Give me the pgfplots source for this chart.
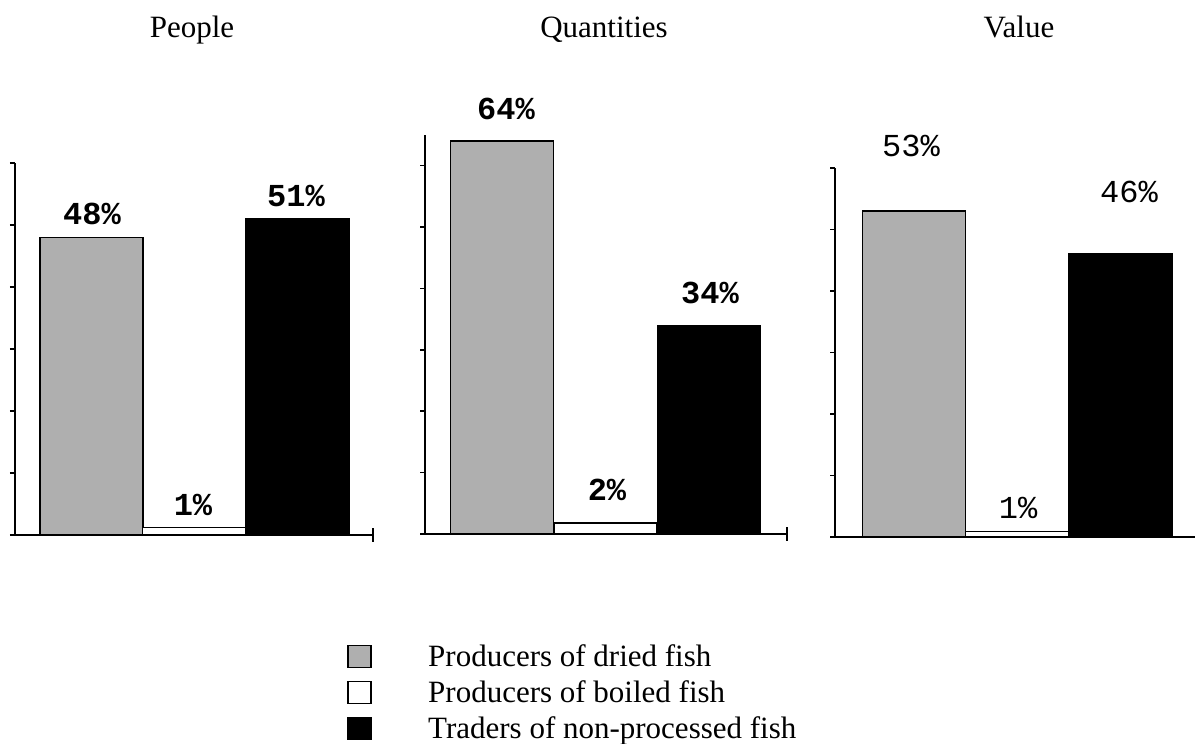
\documentclass[border=0pt]{standalone}
\usepackage{fontspec}
\setmainfont{Liberation Serif}
\newfontfamily\mono{Liberation Mono}
\usepackage{pgfplots}
\pgfplotsset{compat=1.18}
\definecolor{dried}{RGB}{175,175,175}
\tikzset{
 lab/.style={font=\mono\bfseries\fontsize{16}{16}\selectfont, anchor=center, inner sep=0pt},
 labr/.style={font=\mono\fontsize{16}{16}\selectfont, anchor=center, inner sep=0pt},
 ttl/.style={anchor=base, font=\fontsize{15.5}{15.5}\selectfont},
}
\pgfplotsset{
 panel/.style={
  scale only axis, anchor=south west,
  axis x line*=bottom, axis y line*=left,
  xtick=\empty, ytick={0,10,...,60}, yticklabels={},
  tick align=outside, major tick length=2.5pt,
  axis line style={line width=1pt, black},
  x axis line style={shorten <=-2pt},
  tick style={line width=0.8pt, black},
  ymin=0, clip=false, ybar,
 },
 bars/.style={bar width=103, bar shift=0pt, draw=black, line width=0.7pt},
 endtick/.style={extra x ticks={#1}, extra x tick labels={}, extra x tick style={tick align=center, major tick length=7pt}},
}
\begin{document}
\begin{tikzpicture}
\path[use as bounding box] (0pt,0pt) rectangle (597.5pt,372pt);
% People
\begin{axis}[panel, at={(7.5pt,104.5pt)}, width=179pt, height=186pt,
  xmin=15, xmax=373, ymax=60, endtick=373]
\addplot[bars, fill=dried] coordinates {(91.5,48)};
\addplot[bars, fill=white] coordinates {(194,1.2)};
\addplot[bars, fill=black] coordinates {(297.5,51)};
\node[lab] at (axis cs:92,51.85) {48\%};
\node[lab] at (axis cs:296,54.7) {51\%};
\node[lab] at (axis cs:193,4.84) {1\%};
\end{axis}
% Quantities
\begin{axis}[panel, at={(212.5pt,105pt)}, width=181pt, height=199.5pt,
  xmin=425, xmax=787, ymax=65, endtick=787,
  legend style={at={(axis description cs:0,0)}, anchor=north west,
    xshift=-39pt, yshift=-52pt, draw=none, fill=none, inner sep=0pt,
    row sep=0pt, font=\fontsize{15.5}{15.5}\selectfont,
    nodes={inner sep=0pt, minimum height=18pt, text height=10.3pt, text depth=0pt}},
  legend cell align=left,
  legend image code/.code={\draw[#1, line width=0.8pt] (0pt,-5.5pt) rectangle (11.5pt,5.5pt); \path[draw=none, fill=none] (0pt,0pt) -- (40pt,0pt);}]
\addplot[bars, fill=dried] coordinates {(502,64)};
\addlegendentry{Producers of dried fish}
\addplot[bars, fill=white] coordinates {(605.5,1.8)};
\addlegendentry{Producers of boiled fish}
\addplot[bars, fill=black] coordinates {(709,34)};
\addlegendentry{Traders of non-processed fish}
\node[lab] at (axis cs:506,69.3) {64\%};
\node[lab] at (axis cs:710,39.3) {34\%};
\node[lab] at (axis cs:607,7.2) {2\%};
\end{axis}
% Value
\begin{axis}[panel, at={(417.5pt,103.5pt)}, width=180pt, height=184.5pt,
  xmin=835, xmax=1195, ymax=60]
\addplot[bars, fill=dried] coordinates {(914,53)};
\addplot[bars, fill=white] coordinates {(1017,0.9)};
\addplot[bars, fill=black] coordinates {(1120.5,46)};
\node[labr] at (axis cs:911,63.6) {53\%};
\node[labr] at (axis cs:1129,56.1) {46\%};
\node[labr] at (axis cs:1018,4.7) {1\%};
\end{axis}
\node[ttl] at (96pt,353pt) {People};
\node[ttl] at (302pt,353pt) {Quantities};
\node[ttl] at (509.5pt,353pt) {Value};
\end{tikzpicture}
\end{document}
